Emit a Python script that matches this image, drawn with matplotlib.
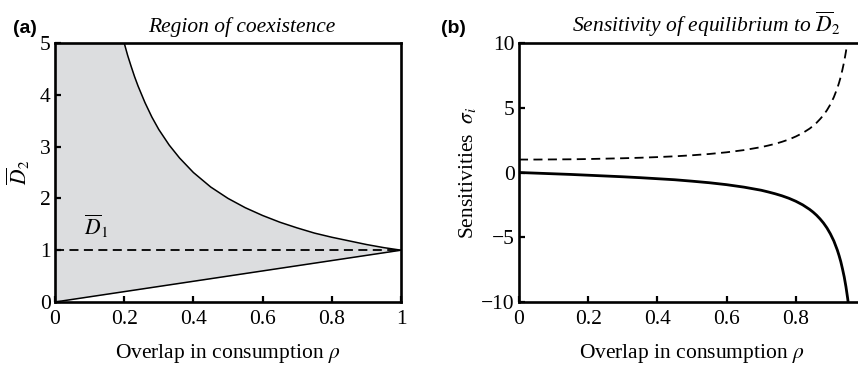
import matplotlib
matplotlib.use("Agg")
import matplotlib.pyplot as plt

plt.rcParams['font.family'] = ['Liberation Serif', 'DejaVu Serif']
plt.rcParams['mathtext.fontset'] = 'stix'

# Panel (a): region of coexistence
rho_a = [0.0, 0.1, 0.2, 0.21, 0.22, 0.23, 0.24, 0.26, 0.28, 0.30, 0.33, 0.36, 0.40, 0.45,
         0.50, 0.55, 0.60, 0.65, 0.70, 0.75, 0.80, 0.85, 0.90, 0.95, 1.0]
upper_a = [5.0, 5.0, 5.0, 4.76, 4.55, 4.35, 4.17, 3.85, 3.57, 3.33, 3.03, 2.78, 2.50, 2.22,
           2.00, 1.82, 1.67, 1.54, 1.43, 1.33, 1.25, 1.18, 1.11, 1.05, 1.0]
lower_a = [0.0, 0.1, 0.2, 0.21, 0.22, 0.23, 0.24, 0.26, 0.28, 0.30, 0.33, 0.36, 0.40, 0.45,
           0.50, 0.55, 0.60, 0.65, 0.70, 0.75, 0.80, 0.85, 0.90, 0.95, 1.0]
curve_start = 2  # index where upper boundary curve enters the plot (rho=0.2)
d1_level = 1.0

# Panel (b): sensitivities
rho_b = [0.0, 0.05, 0.1, 0.15, 0.2, 0.25, 0.3, 0.35, 0.4, 0.45, 0.5, 0.55, 0.6,
         0.65, 0.7, 0.72, 0.74, 0.76, 0.78, 0.8, 0.82, 0.84, 0.85, 0.86, 0.87,
         0.88, 0.89, 0.9, 0.91, 0.92, 0.925, 0.93, 0.935, 0.94, 0.945, 0.95, 0.955]
sigma_dashed = [1.00, 1.00, 1.01, 1.02, 1.04, 1.07, 1.10, 1.14, 1.19, 1.25, 1.33,
                1.43, 1.56, 1.73, 1.96, 2.08, 2.21, 2.37, 2.55, 2.78, 3.05, 3.39,
                3.60, 3.84, 4.12, 4.43, 4.81, 5.26, 5.82, 6.51, 6.93, 7.40, 7.97,
                8.59, 9.35, 10.26, 11.3]
sigma_solid = [0.00, -0.05, -0.10, -0.15, -0.21, -0.27, -0.33, -0.40, -0.48, -0.56,
               -0.67, -0.79, -0.94, -1.13, -1.37, -1.50, -1.64, -1.80, -1.99, -2.22,
               -2.50, -2.85, -3.06, -3.30, -3.58, -3.90, -4.28, -4.74, -5.29, -5.99,
               -6.41, -6.88, -7.45, -8.07, -8.83, -9.74, -10.8]

FS = 15.5
fig = plt.figure(figsize=(8.58, 3.67), dpi=100)

def style(ax):
    for s in ax.spines.values():
        s.set_linewidth(1.9)
    ax.tick_params(direction='in', length=4.5, width=1.6, labelsize=FS,
                   top=False, right=False)
    ax.tick_params(axis='x', pad=6)
    ax.tick_params(axis='y', pad=3)

ax1 = fig.add_axes([55/858, 65/367, 346/858, 259/367])
ax1.fill_between(rho_a, lower_a, upper_a, color='#dcdddf', lw=0)
ax1.plot(rho_a[curve_start:], upper_a[curve_start:], color='black', lw=1.1)
ax1.plot(rho_a, lower_a, color='black', lw=1.1)
ax1.plot([0, 1], [d1_level, d1_level], color='black', lw=1.3, ls=(0, (5, 3)))
ax1.text(0.085, 1.3, r'$\overline{D}_1$', fontsize=FS)
ax1.set_xlim(0, 1)
ax1.set_ylim(0, 5)
ax1.set_xticks([0, 0.2, 0.4, 0.6, 0.8, 1])
ax1.set_xticklabels(['0', '0.2', '0.4', '0.6', '0.8', '1'])
ax1.set_yticks([0, 1, 2, 3, 4, 5])
style(ax1)
ax1.set_xlabel(r'Overlap in consumption $\rho$', fontsize=FS, labelpad=9)
ax1.set_ylabel(r'$\overline{D}_2$', fontsize=FS, labelpad=6)
ax1.set_title('Region of coexistence', fontsize=FS, style='italic', pad=8, x=0.54)
fig.text(13/858, 1 - 33/367, '(a)', fontsize=14, fontweight='bold',
         family='Liberation Sans')

ax2 = fig.add_axes([519/858, 65/367, 346/858, 259/367])
ax2.plot(rho_b, sigma_dashed, color='black', lw=1.3, ls=(0, (5, 3)))
ax2.plot(rho_b, sigma_solid, color='black', lw=2.0)
ax2.set_xlim(0, 1)
ax2.set_ylim(-10, 10)
ax2.set_xticks([0, 0.2, 0.4, 0.6, 0.8])
ax2.set_xticklabels(['0', '0.2', '0.4', '0.6', '0.8'])
ax2.set_yticks([-10, -5, 0, 5, 10])
ax2.set_yticklabels(['\u221210', '\u22125', '0', '5', '10'])
style(ax2)
ax2.set_xlabel(r'Overlap in consumption $\rho$', fontsize=FS, labelpad=9)
ax2.set_ylabel(r'Sensitivities  $\sigma_i$', fontsize=FS, labelpad=2)
ax2.set_title(r'Sensitivity of equilibrium to $\overline{D}_2$', fontsize=FS,
              style='italic', pad=8, x=0.54)
fig.text(441/858, 1 - 33/367, '(b)', fontsize=14, fontweight='bold',
         family='Liberation Sans')

fig.savefig('out.png', dpi=100)
